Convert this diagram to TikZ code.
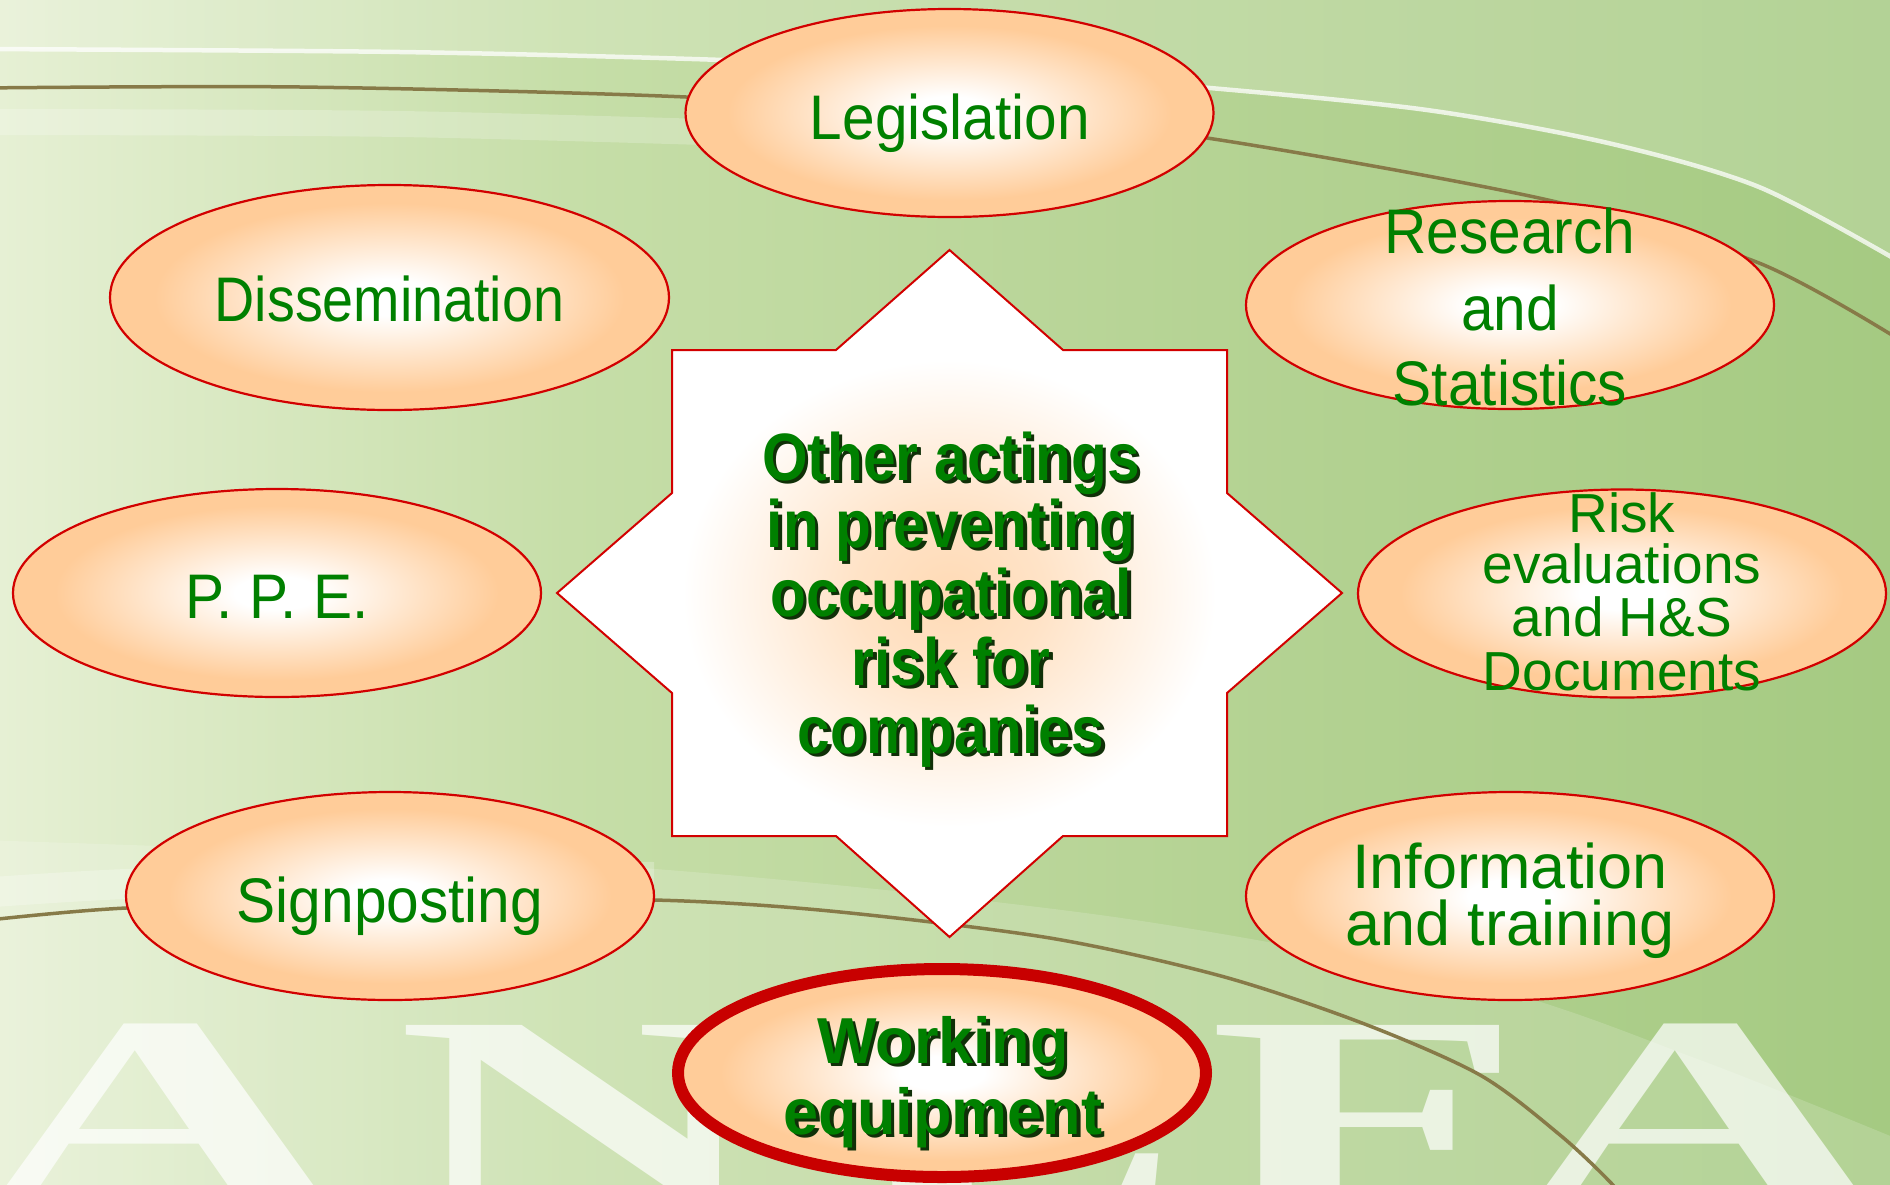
\documentclass[tikz,border=0pt]{standalone}
\usepackage{fontspec}
\setmainfont{Liberation Sans}
\newfontfamily\ellfont[FakeStretch=0.93]{Liberation Sans}
\newfontfamily\plainfont{Liberation Sans}
\newfontfamily\centfont[FakeStretch=0.875]{Liberation Sans}
\newfontfamily\workfont[FakeStretch=0.97]{Liberation Sans}
\newfontfamily\wmfont[FakeStretch=1.9]{Liberation Serif}
\usetikzlibrary{shapes.geometric}

\definecolor{peach}{RGB}{255,204,153}
\definecolor{txtgreen}{RGB}{0,128,0}
\definecolor{shadowc}{RGB}{16,48,8}
\definecolor{bordred}{RGB}{210,0,0}
\definecolor{wred}{RGB}{200,0,0}
\definecolor{bga}{RGB}{230,240,212}
\definecolor{bgb}{RGB}{198,222,168}
\definecolor{bgc}{RGB}{183,212,150}
\definecolor{bgd}{RGB}{165,202,130}
\definecolor{arcbrown}{RGB}{135,122,72}

\pgfdeclareradialshading{peachball}{\pgfpoint{0bp}{0bp}}{color(0bp)=(white); color(4bp)=(white); color(21bp)=(peach); color(25bp)=(peach); color(50bp)=(peach)}
\pgfdeclareradialshading{starglow}{\pgfpoint{0bp}{0bp}}{color(0bp)=(peach!72!white); color(6bp)=(peach!55!white); color(17bp)=(white); color(25bp)=(white); color(50bp)=(white)}
\pgfdeclarehorizontalshading{bgshade}{100bp}{color(0bp)=(bga); color(25bp)=(bga); color(40bp)=(bgb); color(55bp)=(bgc); color(75bp)=(bgd); color(100bp)=(bgd)}

\newcommand\shd[1]{\makebox[0pt][l]{\hspace*{3.5pt}\raisebox{-3.5pt}{\color{shadowc}#1}}#1}

\tikzset{
  bubble/.style={ellipse, draw=bordred, line width=2.2pt, shade, shading=peachball,
    inner sep=0pt, minimum width=528pt, minimum height=208pt},
  etext/.style={anchor=base, inner sep=0pt, text=txtgreen, font=\ellfont\fontsize{63}{63}\selectfont},
  rtext/.style={anchor=base, inner sep=0pt, text=txtgreen, font=\plainfont\fontsize{55}{55}\selectfont},
  itext/.style={anchor=base, inner sep=0pt, text=txtgreen, font=\plainfont\fontsize{63}{63}\selectfont},
  ctext/.style={anchor=base, inner sep=0pt, text=txtgreen, font=\centfont\bfseries\fontsize{67}{67}\selectfont},
  wtext/.style={anchor=base, inner sep=0pt, text=txtgreen, font=\workfont\bfseries\fontsize{65}{65}\selectfont},
  wm/.style={anchor=base, inner sep=0pt, text=white, text opacity=0.7, font=\wmfont\bfseries\fontsize{272}{272}\selectfont},
  brownarc/.style={draw=arcbrown, line width=3.5pt},
  whitearc/.style={draw=white, line width=4.5pt, opacity=0.75}
}

\begin{document}
\begin{tikzpicture}[x=1pt,y=-1pt]
\path[use as bounding box] (0,0) rectangle (1890,1184);
\begin{scope}
  \clip (0,0) rectangle (1890,1184);
  % background
  \shade[shading=bgshade] (0,0) rectangle (1890,1184);
  % lighter region above upper arc
  \fill[white, opacity=0.16] (-20,-20) -- plot[smooth] coordinates {(-20,49) (400,52) (723,60) (1000,72) (1210,88) (1427,110) (1608,143) (1759,187) (1900,262)} -- (1900,-20) -- cycle;
  % lighter region at the bottom
  \fill[white, opacity=0.16] (-20,1200) -- plot[smooth] coordinates {(-20,840) (600,865) (1100,915) (1480,985) (1700,1060) (1900,1140)} -- (1900,1200) -- cycle;
  % glow bands
  \draw[white, opacity=0.22, line width=26pt] plot[smooth] coordinates {(-20,122) (400,124) (800,135)};
  \draw[white, opacity=0.25, line width=30pt] plot[smooth] coordinates {(-20,893) (126,884) (400,876) (654,877)};
  % watermark letters
  \node[wm] (wmA) at (160,1203) {A};
  \node[wm] (wmN) at (583,1203) {N};
  \node[wm] (wmE) at (1013,1203) {E};
  \node[wm] (wmF) at (1366,1203) {F};
  \node[wm] (wmA2) at (1700,1203) {A};
  % arcs
  \draw[whitearc] plot[smooth] coordinates {(-20,49) (400,52) (723,60) (1000,72) (1210,88) (1427,110) (1608,143) (1759,187) (1900,262)};
  \draw[brownarc] plot[smooth] coordinates {(-20,88) (300,87) (686,97) (1000,118) (1207,138) (1548,200) (1759,263) (1900,340)};
  \draw[brownarc] plot[smooth] coordinates {(-20,921) (126,908) (400,900) (654,900) (830,911) (1050,938) (1221,976) (1362,1023) (1480,1075) (1560,1135) (1612,1184) (1630,1210)};
\end{scope}

% central star
\path[draw=bordred, line width=2pt, shade, shading=starglow]
  (949.5,250) -- (1063,350) -- (1227,350) -- (1227,493) -- (1342,593) -- (1227,693)
  -- (1227,836) -- (1063,836) -- (949.5,937) -- (836,836) -- (672,836) -- (672,693)
  -- (557,593) -- (672,493) -- (672,350) -- (836,350) -- cycle;
\coordinate (starc) at (949.5,593);

\node[ctext] (c1) at (951,480) {\shd{Other actings}};
\node[ctext] (c2) at (951,547) {\shd{in preventing}};
\node[ctext] (c3) at (951,616) {\shd{occupational}};
\node[ctext] (c4) at (951,685) {\shd{risk for}};
\node[ctext] (c5) at (951,753) {\shd{companies}};

% ellipses
\node[bubble] (legE) at (949.5,113) {};
\node[bubble, minimum width=559pt, minimum height=225pt] (disE) at (389.5,297.5) {};
\node[bubble] (resE) at (1510,305) {};
\node[bubble] (ppeE) at (277,593) {};
\node[bubble] (riskE) at (1622,593.5) {};
\node[bubble] (sigE) at (390,896) {};
\node[bubble] (infE) at (1510,896) {};
\node[bubble, draw=wred, line width=12pt] (workE) at (942,1073) {};

% labels
\node[etext] (legT) at (950,139) {Legislation};
\node[etext] (disT) at (389.5,321) {\scalebox{0.95}[1]{Dissemination}};
\node[etext] (resT1) at (1510,253) {Research};
\node[etext] (resT2) at (1510,330) {and};
\node[etext] (resT3) at (1510,405) {Statistics};
\node[etext] (ppeT) at (277,618) {P. P. E.};
\node[rtext] (riskT1) at (1622,532) {Risk};
\node[rtext] (riskT2) at (1622,583) {evaluations};
\node[rtext] (riskT3) at (1622,636) {and H\&S};
\node[rtext] (riskT4) at (1622,690) {Documents};
\node[etext] (sigT) at (390,922) {Signposting};
\node[itext] (infT1) at (1510,888) {Information};
\node[itext] (infT2) at (1510,945) {and training};
\node[wtext] (workT1) at (943,1063) {\shd{Working}};
\node[wtext] (workT2) at (943,1134) {\shd{equipment}};
\end{tikzpicture}
\end{document}
